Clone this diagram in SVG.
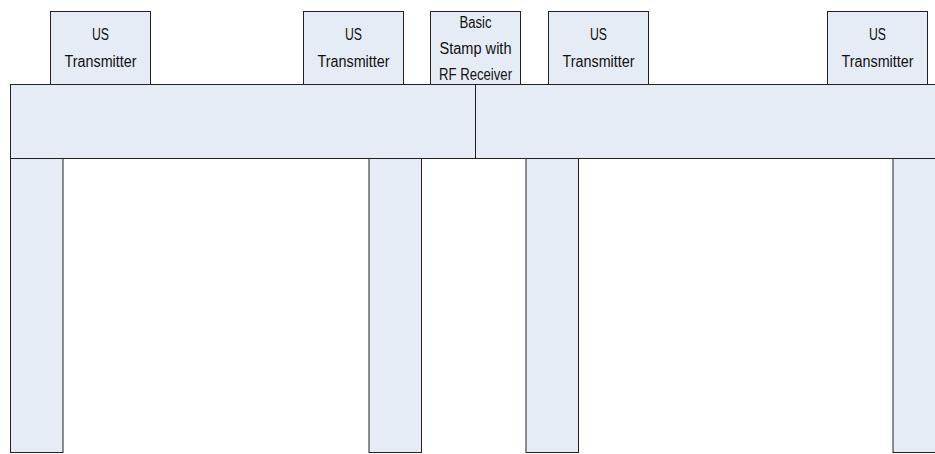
<svg xmlns="http://www.w3.org/2000/svg" width="935" height="454" viewBox="0 0 935 454">
<style>
.s{fill:#E6ECF6;stroke:#222;stroke-width:1}
.t{font-family:"Liberation Sans",Arial,sans-serif;font-size:16px;fill:#111;text-anchor:middle}
</style>
<rect width="935" height="454" fill="#fff"/>
<g id="leg1"><rect class="s" x="10.5" y="158.5" width="52.5" height="294"/></g>
<g id="leg2"><rect class="s" x="369" y="158.5" width="52.5" height="294"/></g>
<g id="leg3"><rect class="s" x="526" y="158.5" width="52.5" height="294"/></g>
<g id="leg4"><rect class="s" x="893" y="158.5" width="52.5" height="294"/></g>
<g id="tableLeft"><rect class="s" x="10.5" y="84.5" width="465" height="74"/></g>
<g id="tableRight"><rect class="s" x="475.5" y="84.5" width="470" height="74"/></g>
<g id="tx1"><rect class="s" x="50.5" y="11.5" width="100" height="73"/><text class="t" x="100.5" y="40" textLength="17" lengthAdjust="spacingAndGlyphs">US</text><text class="t" x="100.5" y="67" textLength="72" lengthAdjust="spacingAndGlyphs">Transmitter</text></g>
<g id="tx2"><rect class="s" x="303.5" y="11.5" width="100" height="73"/><text class="t" x="353.5" y="40" textLength="17" lengthAdjust="spacingAndGlyphs">US</text><text class="t" x="353.5" y="67" textLength="72" lengthAdjust="spacingAndGlyphs">Transmitter</text></g>
<g id="stamp"><rect class="s" x="430.5" y="11.5" width="90" height="73"/><text class="t" x="475.5" y="28" textLength="32" lengthAdjust="spacingAndGlyphs">Basic</text><text class="t" x="475.5" y="54" textLength="72" lengthAdjust="spacingAndGlyphs">Stamp with</text><text class="t" x="475.5" y="80" textLength="73" lengthAdjust="spacingAndGlyphs">RF Receiver</text></g>
<g id="tx3"><rect class="s" x="548.5" y="11.5" width="100" height="73"/><text class="t" x="598.5" y="40" textLength="17" lengthAdjust="spacingAndGlyphs">US</text><text class="t" x="598.5" y="67" textLength="72" lengthAdjust="spacingAndGlyphs">Transmitter</text></g>
<g id="tx4"><rect class="s" x="827.5" y="11.5" width="100" height="73"/><text class="t" x="877.5" y="40" textLength="17" lengthAdjust="spacingAndGlyphs">US</text><text class="t" x="877.5" y="67" textLength="72" lengthAdjust="spacingAndGlyphs">Transmitter</text></g>
<g id="connectors"></g>
</svg>
